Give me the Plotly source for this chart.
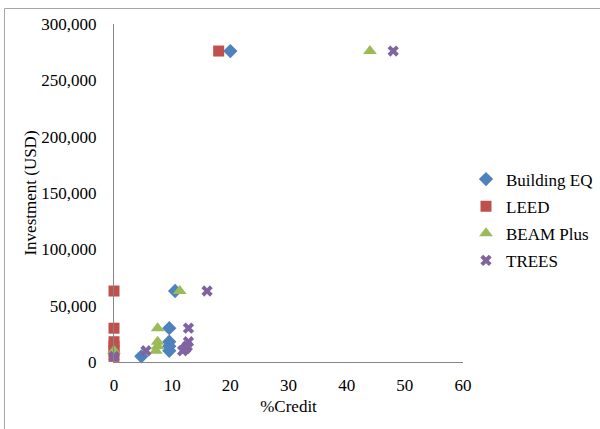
import plotly.graph_objects as go

series_names = ["Building EQ", "LEED", "BEAM Plus", "TREES"]
investment_usd = [276000, 63000, 30000, 18000, 14000, 10000, 5000]
building_eq_credit = [20, 10.5, 9.5, 9.5, 9.5, 9.5, 4.7]
leed_credit = [18, 0, 0, 0, 0, 0, 0]
beam_plus_credit = [44, 11.3, 7.5, 7.5, 7.5, 7.2, 0]
beam_plus_invest = [276000, 63000, 30000, 18000, 14000, 10000, 10000]
trees_credit = [48, 16, 12.8, 12.8, 12.6, 11.8, 5.5, 0, 12.3]
trees_invest = [276000, 63000, 30000, 18000, 14000, 10000, 10000, 5000, 12000]

colors = ["#4F81BD", "#C0504D", "#9BBB59", "#8064A2"]
symbols = ["diamond", "square", "triangle-up", "x"]
sizes = [11, 11, 12, 10]

xs = [building_eq_credit, leed_credit, beam_plus_credit, trees_credit]
ys = [investment_usd, investment_usd, beam_plus_invest, trees_invest]

fig = go.Figure()
for i, (name, x, y, c, s, sz) in enumerate(zip(series_names, xs, ys, colors, symbols, sizes)):
    fig.add_trace(go.Scatter(
        x=x, y=y, mode="markers", name=name, cliponaxis=False, legendgroup=f"g{i}",
        marker=dict(color=c, symbol=s, size=sz, line=dict(width=0)),
    ))

font = "Liberation Serif, Times New Roman, serif"
fig.update_layout(
    width=600, height=429,
    margin=dict(l=114, r=137, t=24, b=67, autoexpand=False),
    paper_bgcolor="white", plot_bgcolor="white",
    font=dict(family=font, size=17, color="black"),
    showlegend=True,
    legend=dict(x=(466 - 114) / 349, y=0.42, xanchor="left", yanchor="middle",
                font=dict(family=font, size=17), itemwidth=30,
                traceorder="grouped", tracegroupgap=2,
                borderwidth=0, bgcolor="rgba(0,0,0,0)"),
    xaxis=dict(range=[0, 60], dtick=10, showgrid=False, zeroline=False,
               showline=True, linecolor="#868686", linewidth=1,
               ticks="", ticklabelstandoff=8,
               title=dict(text="%Credit", font=dict(family=font, size=17), standoff=5)),
    yaxis=dict(range=[0, 300000], dtick=50000, tickformat=",", showgrid=False,
               zeroline=False, showline=True, linecolor="#868686", linewidth=1,
               ticks="", ticklabelstandoff=13,
               title=dict(text="Investment (USD)", font=dict(family=font, size=17), standoff=0)),
    shapes=[
        dict(type="line", xref="paper", yref="paper", x0=(4.5 - 114) / 349, x1=(600 - 114) / 349,
             y0=(362 - 8.5) / 338, y1=(362 - 8.5) / 338, line=dict(color="#A6A6A6", width=1)),
        dict(type="line", xref="paper", yref="paper", x0=(4.5 - 114) / 349, x1=(4.5 - 114) / 349,
             y0=(362 - 8.5) / 338, y1=(362 - 429) / 338, line=dict(color="#A6A6A6", width=1)),
    ],
)

fig.write_html("out.html")
